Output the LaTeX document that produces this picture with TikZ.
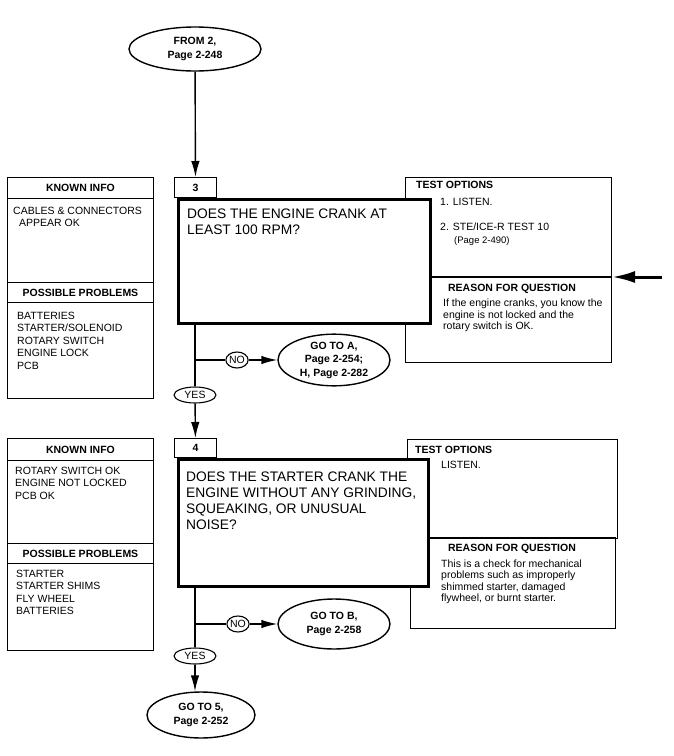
\documentclass[tikz,border=0pt]{standalone}
\usepackage{fontspec}
\setmainfont{Liberation Sans}
\usetikzlibrary{shapes.geometric,arrows.meta}

\begin{document}
\begin{tikzpicture}[x=1pt,y=-1pt,
  >={Latex[length=16pt,width=8.5pt]},
  flow/.style={line width=1.4pt},
  bigarrow/.style={line width=3pt,-{Latex[length=23pt,width=12pt]}},
  oval/.style={draw,ellipse,line width=1.4pt,inner sep=0pt,align=center,
    font=\fontsize{10.5}{13.5}\selectfont\bfseries},
  answer/.style={draw,ellipse,line width=1.1pt,inner sep=0pt,
    font=\fontsize{10.5}{12}\selectfont},
  panel/.style={draw,line width=1pt,inner sep=0pt,anchor=north west,fill=white},
  hdr/.style={font=\fontsize{10.5}{12}\selectfont\bfseries},
  qbox/.style={draw,line width=3.2pt,inner sep=0pt,anchor=north west,fill=white},
  qtext/.style={anchor=north west,inner sep=0pt,align=left,
    font=\fontsize{13.8}{16}\selectfont},
  txt/.style={anchor=north west,inner sep=0pt,align=left,
    font=\fontsize{10.5}{12.5}\selectfont},
  note/.style={anchor=north west,inner sep=0pt,align=left,
    font=\fontsize{10.5}{11.5}\selectfont},
  item/.style={anchor=base west,inner sep=0pt,font=\fontsize{10.5}{12}\selectfont}]
  \useasboundingbox (0,0) rectangle (674,756);

  % step 3
  \node[oval,minimum width=132,minimum height=44] (from2) at (195,49) {FROM 2,\\Page 2-248};

  \node[panel,hdr,minimum width=146,minimum height=21] (k3) at (7,177) {KNOWN INFO};
  \node[panel,minimum width=146,minimum height=84] (k3b) at (7,198) {};
  \node[txt] (k3t) at (13,206.5) {CABLES \& CONNECTORS\\\hspace{6pt}APPEAR OK};
  \node[panel,hdr,minimum width=146,minimum height=20] (p3) at (7,282) {POSSIBLE PROBLEMS};
  \node[panel,minimum width=146,minimum height=96] (p3b) at (7,302) {};
  \node[txt] (p3t) at (17,311.5) {BATTERIES\\STARTER/SOLENOID\\ROTARY SWITCH\\ENGINE LOCK\\PCB};

  \node[panel,minimum width=206,minimum height=100] (t3) at (405,177) {};
  \node[item,font=\fontsize{10.5}{12}\selectfont\bfseries] (t3h) at (416,188) {TEST OPTIONS};
  \node[item] (t3a) at (440,205) {1. LISTEN.};
  \node[item] (t3b) at (440,230) {2. STE/ICE-R TEST 10};
  \node[item,font=\fontsize{9.5}{11}\selectfont] (t3c) at (454,243) {(Page 2-490)};
  \node[panel,minimum width=206,minimum height=85] (r3) at (405,277) {};
  \draw[line width=1.8pt] (r3.north west) -- (r3.north east);
  \node[hdr,anchor=base,inner sep=0pt] (r3h) at (512,291) {REASON FOR QUESTION};
  \node[note] (r3t) at (443,299) {If the engine cranks, you know the\\engine is not locked and the\\rotary switch is OK.};
  \coordinate (in3) at (662,277);
  \draw[bigarrow] (in3) -- (r3.north east);

  \node[panel,hdr,minimum width=42,minimum height=20] (n3) at (174,177) {3};
  \node[qbox,minimum width=252,minimum height=124] (q3) at (177,198) {};
  \node[qtext] (q3t) at (187,209) {DOES THE ENGINE CRANK AT\\LEAST 100 RPM?};

  \node[answer,minimum width=21,minimum height=16] (no3) at (237,360) {NO};
  \node[oval,minimum width=112,minimum height=46] (gotoA) at (334,360) {GO TO A,\\Page 2-254;\\H, Page 2-282};
  \node[answer,minimum width=42,minimum height=16] (yes3) at (195,395) {YES};
  \coordinate (b3) at (195,360);

  \draw[flow,->] (from2) -- (n3);
  \draw[flow] (q3.south -| b3) -- (yes3);
  \draw[flow] (b3) -- (no3);
  \draw[flow,->] (no3) -- (gotoA);

  % step 4
  \node[panel,hdr,minimum width=146,minimum height=22] (k4) at (7,438) {KNOWN INFO};
  \node[panel,minimum width=146,minimum height=83] (k4b) at (7,460) {};
  \node[txt] (k4t) at (15,466.5) {ROTARY SWITCH OK\\ENGINE NOT LOCKED\\PCB OK};
  \node[panel,hdr,minimum width=146,minimum height=20] (p4) at (7,543) {POSSIBLE PROBLEMS};
  \node[panel,minimum width=146,minimum height=87] (p4b) at (7,563) {};
  \node[txt] (p4t) at (16,569.5) {STARTER\\STARTER SHIMS\\FLY WHEEL\\BATTERIES};

  \node[panel,minimum width=210,minimum height=99] (t4) at (407,439) {};
  \node[item,font=\fontsize{10.5}{12}\selectfont\bfseries] (t4h) at (415,453) {TEST OPTIONS};
  \node[item] (t4a) at (441,468) {LISTEN.};
  \node[panel,minimum width=205,minimum height=90] (r4) at (410,538) {};
  \draw[line width=1.8pt] (r4.north west) -- (r4.north east);
  \node[hdr,anchor=base,inner sep=0pt] (r4h) at (512,551) {REASON FOR QUESTION};
  \node[note] (r4t) at (441,559.5) {This is a check for mechanical\\problems such as improperly\\shimmed starter, damaged\\flywheel, or burnt starter.};

  \node[panel,hdr,minimum width=42,minimum height=19] (n4) at (174,438) {4};
  \node[qbox,minimum width=250,minimum height=127] (q4) at (177,458) {};
  \node[qtext] (q4t) at (186,472) {DOES THE STARTER CRANK THE\\ENGINE WITHOUT ANY GRINDING,\\SQUEAKING, OR UNUSUAL\\NOISE?};

  \node[answer,minimum width=21,minimum height=16] (no4) at (238,624) {NO};
  \node[oval,minimum width=112,minimum height=50] (gotoB) at (334,624) {GO TO B,\\Page 2-258};
  \node[answer,minimum width=42,minimum height=16] (yes4) at (195,656) {YES};
  \node[oval,minimum width=108,minimum height=46] (goto5) at (201,715) {GO TO 5,\\Page 2-252};
  \coordinate (b4) at (195,624);

  \draw[flow,->] (yes3) -- (n4);
  \draw[flow] (q4.south -| b4) -- (yes4);
  \draw[flow] (b4) -- (no4);
  \draw[flow,->] (no4) -- (gotoB);
  \draw[flow,->] (yes4) -- (yes4 |- goto5.north);
\end{tikzpicture}
\end{document}
